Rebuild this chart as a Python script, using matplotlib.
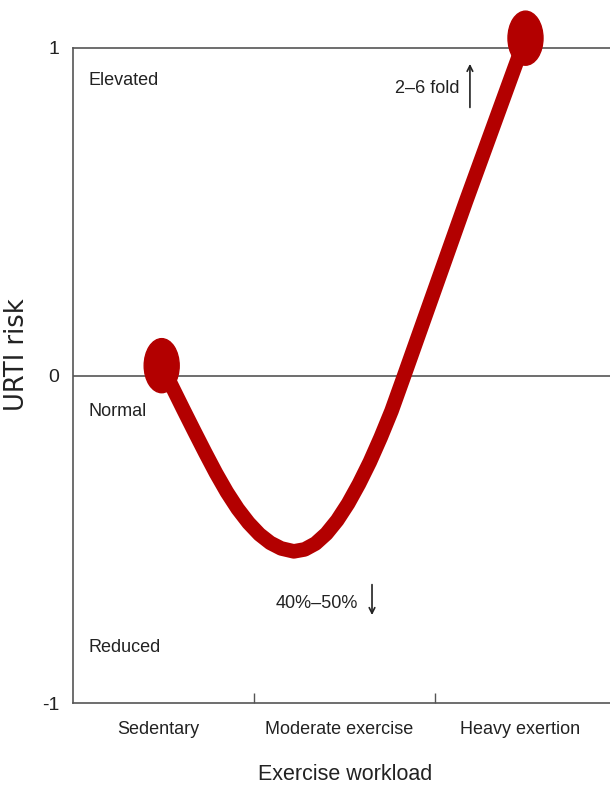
import numpy as np
import matplotlib
matplotlib.use('Agg')
import matplotlib.pyplot as plt
from matplotlib.patches import Ellipse

# U-shaped (J) curve of URTI risk vs. exercise workload
curve_x = [0.49, 0.55, 0.61, 0.67, 0.73, 0.79, 0.85, 0.91, 0.97, 1.03, 1.09, 1.15, 1.22,
           1.28, 1.34, 1.40, 1.46, 1.52, 1.58, 1.64, 1.70, 1.76, 1.83, 2.17, 2.44, 2.50]
curve_y = [0.03, -0.037, -0.104, -0.170, -0.235, -0.298, -0.356, -0.407, -0.450, -0.485,
           -0.511, -0.528, -0.537, -0.531, -0.513, -0.483, -0.442, -0.391, -0.331, -0.264,
           -0.189, -0.108, 0.00, 0.53, 0.94, 1.03]

end_points_x = [0.49, 2.50]
end_points_y = [0.03, 1.03]

categories = ['Sedentary', 'Moderate exercise', 'Heavy exertion']
y_ticks = [-1, 0, 1]
y_tick_labels = ['-1', '0', '1']
levels = ['Elevated', 'Normal', 'Reduced']
level_y = [0.90, -0.11, -0.83]

RED = '#b30000'
GREY = '#555555'
TXT = '#222222'
FONT = ['Liberation Sans', 'DejaVu Sans']

fig = plt.figure(figsize=(6.10, 7.91), dpi=100)
ax = fig.add_axes([73/610, 1-703/791, 543/610, 655/791])
ax.set_xlim(0, 3)
ax.set_ylim(-1, 1)

for side in ['left', 'bottom', 'top', 'right']:
    ax.spines[side].set_color(GREY)
    ax.spines[side].set_linewidth(1.2)
ax.spines['right'].set_visible(False)
ax.axhline(0, color=GREY, lw=1.2, zorder=1)

ax.set_yticks(y_ticks)
ax.set_yticklabels(y_tick_labels, family=FONT, fontsize=14, color=TXT)
ax.tick_params(axis='y', length=0, pad=10)
ax.set_xticks([1, 2])
ax.set_xticklabels([])
ax.tick_params(axis='x', direction='in', length=7, width=1, color=GREY)

# the curve and its two end blobs
ax.plot(curve_x, curve_y, color=RED, lw=10.5, solid_capstyle='round',
        solid_joinstyle='round', zorder=3, clip_on=False)
for ex, ey in zip(end_points_x, end_points_y):
    ax.add_patch(Ellipse((ex, ey), 35/181, 54/327, color=RED, zorder=4, clip_on=False))

for lab, ly in zip(levels, level_y):
    ax.text(0.083, ly, lab, family=FONT, fontsize=13, color=TXT, ha='left', va='center')

ax.text(2.138, 0.875, '2–6 fold', family=FONT, fontsize=13, color=TXT, ha='right', va='center')
ax.annotate('', xy=(2.193, 0.96), xytext=(2.193, 0.81),
            arrowprops=dict(arrowstyle='->', color=TXT, lw=1.2))
ax.text(1.575, -0.695, '40%–50%', family=FONT, fontsize=13, color=TXT, ha='right', va='center')
ax.annotate('', xy=(1.652, -0.74), xytext=(1.652, -0.63),
            arrowprops=dict(arrowstyle='->', color=TXT, lw=1.2))

for i, cat in enumerate(categories):
    ax.text(i + 0.47, -0.04, cat, family=FONT, fontsize=13, color=TXT, ha='center',
            va='center', transform=ax.get_xaxis_transform())

fig.text(345/610, 1-775/791, 'Exercise workload', family=FONT, fontsize=15.5, color=TXT,
         ha='center', va='center')
fig.text(17/610, 1-355/791, 'URTI risk', family='DejaVu Sans', fontsize=18.5, color=TXT,
         rotation=90, ha='center', va='center')

fig.savefig('out.png', dpi=100)
